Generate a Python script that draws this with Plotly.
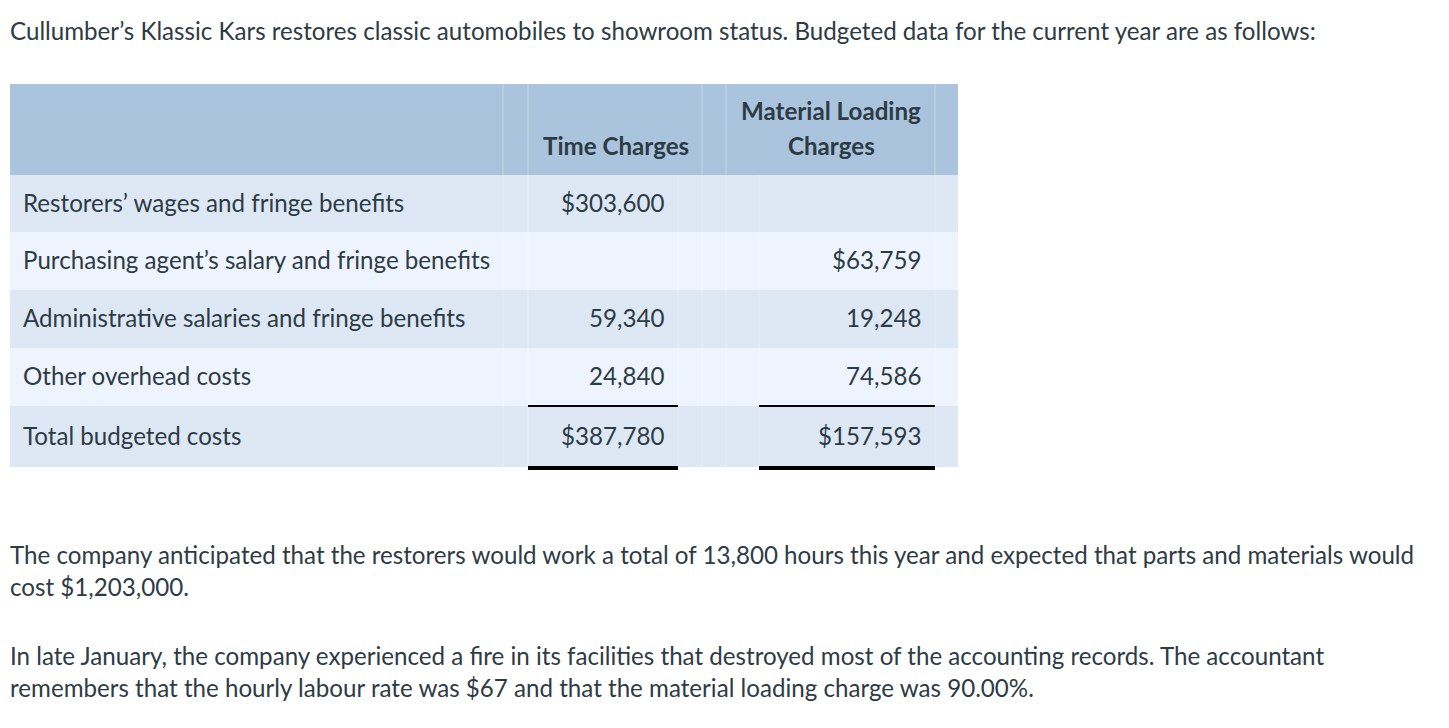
import plotly.graph_objects as go

# ---- data ----
intro_text = "Cullumber’s Klassic Kars restores classic automobiles to showroom status. Budgeted data for the current year are as follows:"
col_headers = [["Time Charges"], ["Material Loading", "Charges"]]
row_labels = [
    "Restorers’ wages and fringe benefits",
    "Purchasing agent’s salary and fringe benefits",
    "Administrative salaries and fringe benefits",
    "Other overhead costs",
    "Total budgeted costs",
]
time_charges = [303600, None, 59340, 24840, 387780]
material_charges = [None, 63759, 19248, 74586, 157593]
para2_lines = [
    "The company anticipated that the restorers would work a total of 13,800 hours this year and expected that parts and materials would",
    "cost $1,203,000.",
]
para3_lines = [
    "In late January, the company experienced a fire in its facilities that destroyed most of the accounting records. The accountant",
    "remembers that the hourly labour rate was $67 and that the material loading charge was 90.00%.",
]

# ---- style / layout constants ----
W, H = 1449, 728
OFF = 8  # page body margin
FONT = "Lato"
TXT = "#2d3b45"
HEAD_FILL = "#a9c4dc"
ROW_FILLS = ["#dde8f4", "#edf4fd"]
TABLE_X0, TABLE_X1 = 10, 958
HEAD_Y0, HEAD_Y1 = 84, 175
ROW_EDGES = [175, 232, 290, 348, 406, 467]
VLINES_ALL = [503, 528, 702, 726, 935]
VLINES_BODY = [678, 759]
TIME_COL = (528, 678)
MAT_COL = (759, 935)
TIME_HEAD_CX = 615.5
MAT_HEAD_CX = 831
HEAD_LINE_Y = [145, 110]
LABEL_X = 21
TEXT_X = 8
TIME_RIGHT = 667
MAT_RIGHT = 924
FS = 24.15


def fmt(v, dollar):
    if v is None:
        return ""
    s = f"{v:,}"
    return ("$" + s) if dollar else s


fig = go.Figure()
shapes = []
ann = []

def add_text(x, y, text, xanchor="left", bold=False):
    ann.append(dict(x=x, y=y, text=("<b>%s</b>" % text) if bold else text,
                    xanchor=xanchor, yanchor="middle",
                    font=dict(size=FS, color=TXT, family=FONT)))

# header background
shapes.append(dict(type="rect", x0=TABLE_X0, x1=TABLE_X1, y0=HEAD_Y0, y1=HEAD_Y1,
                   fillcolor=HEAD_FILL, line_width=0, layer="below"))
# body rows
for i in range(len(row_labels)):
    shapes.append(dict(type="rect", x0=TABLE_X0, x1=TABLE_X1, y0=ROW_EDGES[i], y1=ROW_EDGES[i + 1],
                       fillcolor=ROW_FILLS[i % 2], line_width=0, layer="below"))
# faint vertical grid lines
for x in VLINES_ALL:
    shapes.append(dict(type="line", x0=x, x1=x, y0=HEAD_Y0, y1=ROW_EDGES[-1],
                       line=dict(color="rgba(255,255,255,0.35)", width=1)))
for x in VLINES_BODY:
    shapes.append(dict(type="line", x0=x, x1=x, y0=HEAD_Y1, y1=ROW_EDGES[-1],
                       line=dict(color="rgba(255,255,255,0.35)", width=1)))
# underlines before totals (single) and under totals (thick)
for (a, b) in (TIME_COL, MAT_COL):
    shapes.append(dict(type="line", x0=a, x1=b, y0=ROW_EDGES[-2], y1=ROW_EDGES[-2],
                       line=dict(color="black", width=2)))
    shapes.append(dict(type="line", x0=a, x1=b, y0=ROW_EDGES[-1] + 1, y1=ROW_EDGES[-1] + 1,
                       line=dict(color="black", width=4)))
# right page border
shapes.append(dict(type="line", x0=1446, x1=1446, y0=0, y1=H,
                   line=dict(color="#e4e4e4", width=1)))

# intro text
add_text(TEXT_X, 30, intro_text)
# headers
add_text(TIME_HEAD_CX, HEAD_LINE_Y[0], col_headers[0][0], "center", True)
for k, line in enumerate(reversed(col_headers[1])):
    add_text(MAT_HEAD_CX, HEAD_LINE_Y[k], line, "center", True)
# rows
seen_t = seen_m = False
for i, lab in enumerate(row_labels):
    yc = (ROW_EDGES[i] + ROW_EDGES[i + 1]) / 2 - 1.5
    is_total = i == len(row_labels) - 1
    add_text(LABEL_X, yc, lab)
    tv = time_charges[i]
    if tv is not None:
        add_text(TIME_RIGHT, yc, fmt(tv, (not seen_t) or is_total), "right")
        seen_t = True
    mv = material_charges[i]
    if mv is not None:
        add_text(MAT_RIGHT, yc, fmt(mv, (not seen_m) or is_total), "right")
        seen_m = True

# paragraphs
for j, line in enumerate(para2_lines):
    add_text(TEXT_X, 554 + 32 * j, line)
for j, line in enumerate(para3_lines):
    add_text(TEXT_X, 655 + 32 * j, line)

for a in ann:
    a.update(showarrow=False, xref="x", yref="y")
for s in shapes:
    s.update(xref="x", yref="y")

fig.update_layout(
    width=W - OFF, height=H - OFF, autosize=False,
    margin=dict(l=0, r=0, t=0, b=0, pad=0),
    paper_bgcolor="white", plot_bgcolor="white",
    xaxis=dict(range=[OFF, W], visible=False, fixedrange=True),
    yaxis=dict(range=[H, OFF], visible=False, fixedrange=True),
    shapes=shapes, annotations=ann, showlegend=False,
)
fig.write_html("out.html", config={"displayModeBar": False})
